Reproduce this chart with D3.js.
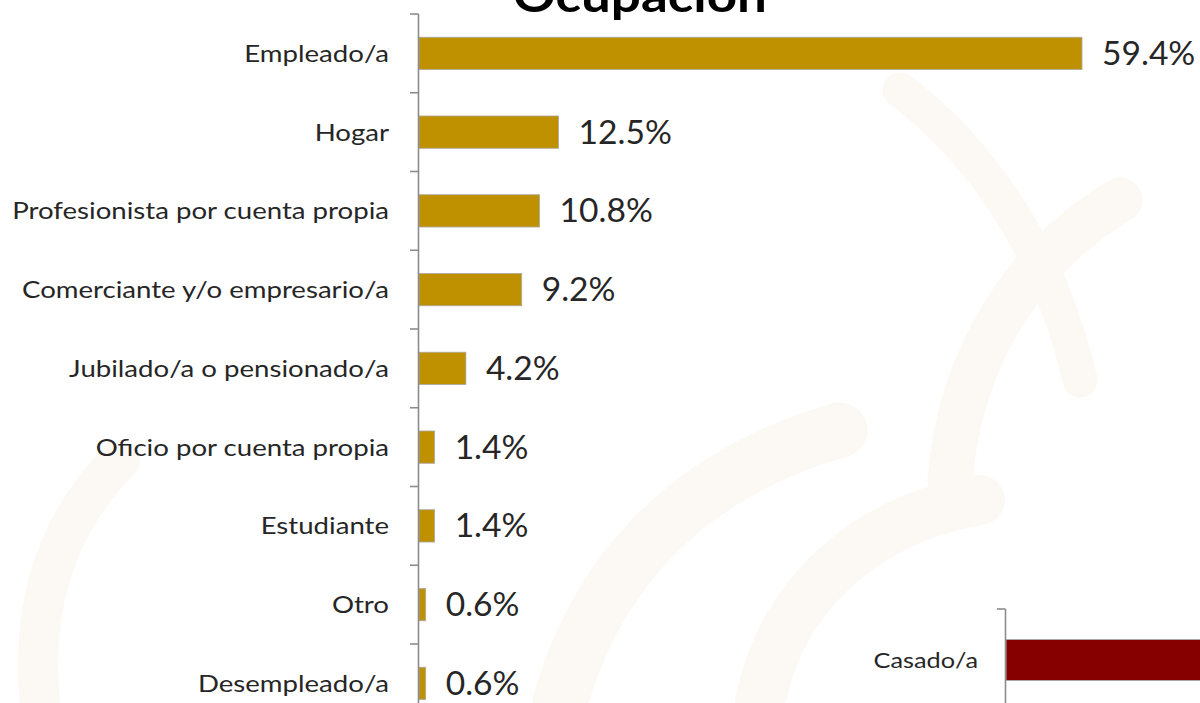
<!DOCTYPE html>
<html><head><meta charset="utf-8">
<script src="https://cdn.jsdelivr.net/npm/d3@7"></script>
<style>body{margin:0;background:#fff}svg{display:block}</style>
</head><body>
<script>
const categories = ["Empleado/a","Hogar","Profesionista por cuenta propia","Comerciante y/o empresario/a","Jubilado/a o pensionado/a","Oficio por cuenta propia","Estudiante","Otro","Desempleado/a"];
const values = [59.4,12.5,10.8,9.2,4.2,1.4,1.4,0.6,0.6];
const title = "Ocupación";
const civilCategories = ["Casado/a"];
const civilValues = [45];

const W=1200,H=703;
const FONT="Lato, 'Open Sans', sans-serif";
const svg=d3.select("body").append("svg").attr("width",W).attr("height",H);
svg.append("rect").attr("width",W).attr("height",H).attr("fill","#fff");

// faint watermark strokes
const wm=svg.append("g").attr("fill","none").attr("stroke","#fcf9f4").attr("stroke-linecap","round");
[[ "M560,703 C600,560 700,470 840,430", 55],["M760,703 C780,600 860,520 980,500",50],["M1120,200 C1020,260 960,360 950,480",45],
 ["M40,703 C30,600 60,520 120,460",40],["M900,90 C980,150 1050,250 1080,380",35]]
 .forEach(([d,w])=>wm.append("path").attr("d",d).attr("stroke-width",w));

const x=d3.scaleLinear().domain([0,59.4]).range([419,1082]);
const y=d3.scaleBand().domain(categories).range([14,722.75]).paddingInner(0.59).paddingOuter(0.295);

// title
svg.append("text").attr("transform","translate(640,12) scale(1.15,1)").attr("text-anchor","middle")
  .attr("font-family",FONT).attr("font-weight","bold").attr("font-size",46)
  .attr("fill","#000").text(title);

// bars
svg.append("g").selectAll("rect").data(categories).join("rect")
  .attr("x",x(0)).attr("y",d=>y(d)).attr("width",(d,i)=>x(values[i])-x(0)).attr("height",y.bandwidth())
  .attr("fill","#BF9000").attr("stroke","#a8a8a8").attr("stroke-width",0.8);

// axis
const step=y.step();
const axis=svg.append("g").attr("stroke","#8c8c8c").attr("stroke-width",1.6);
axis.append("line").attr("x1",418.5).attr("x2",418.5).attr("y1",14).attr("y2",H);
categories.forEach((c,i)=>{const yy=14+i*step; axis.append("line").attr("x1",410).attr("x2",418.5).attr("y1",yy).attr("y2",yy);});

// category labels
svg.append("g").selectAll("text").data(categories).join("text")
  .attr("transform",d=>`translate(389,${y(d)+y.bandwidth()/2}) scale(1.15,1)`).attr("dy","0.35em").attr("text-anchor","end")
  .attr("font-family",FONT).attr("font-size",24).attr("fill","#262626").text(d=>d);

// value labels
svg.append("g").selectAll("text").data(categories).join("text")
  .attr("transform",(d,i)=>`translate(${x(values[i])+20},${y(d)+y.bandwidth()/2}) scale(1.05,1)`).attr("dy","0.36em")
  .attr("font-family",FONT).attr("font-size",32).attr("fill","#262626")
  .text((d,i)=>values[i].toFixed(1)+"%");

// partial second chart
const x2=d3.scaleLinear().domain([0,45]).range([1006,1500]);
const y2=d3.scaleBand().domain(civilCategories).range([609,711]).paddingInner(0.6).paddingOuter(0.3);
svg.append("g").selectAll("rect").data(civilCategories).join("rect")
  .attr("x",x2(0)).attr("y",d=>y2(d)).attr("width",(d,i)=>x2(civilValues[i])-x2(0)).attr("height",y2.bandwidth())
  .attr("fill","#870000").attr("stroke","#a8a8a8").attr("stroke-width",0.8);
const ax2=svg.append("g").attr("stroke","#8c8c8c").attr("stroke-width",1.6);
ax2.append("line").attr("x1",1005.5).attr("x2",1005.5).attr("y1",609).attr("y2",H);
ax2.append("line").attr("x1",997).attr("x2",1005.5).attr("y1",609).attr("y2",609);
svg.append("g").selectAll("text").data(civilCategories).join("text")
  .attr("transform",d=>`translate(978,${y2(d)+y2.bandwidth()/2}) scale(1.15,1)`).attr("dy","0.35em").attr("text-anchor","end")
  .attr("font-family",FONT).attr("font-size",22).attr("fill","#262626").text(d=>d);
</script>
</body></html>
